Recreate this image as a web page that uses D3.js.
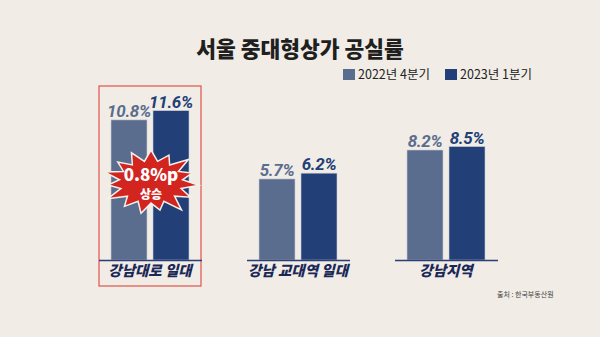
<!DOCTYPE html>
<html>
<head>
<meta charset="utf-8">
<script src="https://cdn.jsdelivr.net/npm/d3@7"></script>
<style>
  html, body { margin: 0; padding: 0; background: #f1ede6; }
  svg { display: block; }
  text { font-family: "Noto Sans CJK KR", "Noto Sans", sans-serif; }
</style>
</head>
<body>
<svg id="chart" width="600" height="337"></svg>
<script>
// Seoul mid/large retail vacancy rate (%)
const categories = ["강남대로 일대", "강남 교대역 일대", "강남지역"];
const seriesNames = ["2022년 4분기", "2023년 1분기"];
const q4_2022 = [10.8, 5.7, 8.2];
const q1_2023 = [11.6, 6.2, 8.5];
const highlight = { category: "강남대로 일대", lines: ["0.8%p", "상승"] };
const sourceText = "출처 : 한국부동산원";

const colors = ["#5b6d8e", "#223f78"];
const svg = d3.select("#chart");

svg.append("rect").attr("width", 600).attr("height", 337).attr("fill", "#f1ede6");

// title
svg.append("text")
  .attr("x", 300).attr("y", 57)
  .attr("text-anchor", "middle")
  .attr("font-size", 21.5).attr("font-weight", 900)
  .attr("fill", "#1f1f1f")
  .text("서울 중대형상가 공실률");

// legend
const legendX = [343, 445];
seriesNames.forEach((name, i) => {
  const g = svg.append("g").attr("transform", `translate(${legendX[i]},69)`);
  g.append("rect").attr("width", 12).attr("height", 11).attr("fill", colors[i]);
  g.append("text").attr("x", 15).attr("y", 10)
    .attr("font-size", 12.5).attr("fill", "#222")
    .text(name);
});

const baseline = 260;
const x = d3.scalePoint().domain(categories).range([150, 446]);
const y = d3.scaleLinear().domain([-1.3, 12]).range([baseline, 106]);
const barW = 36, gap = 6;

const data = categories.map((c, i) => ({ category: c, values: [q4_2022[i], q1_2023[i]] }));

// highlight frame round the first category
const hx = x(highlight.category);
svg.append("rect")
  .attr("x", hx - 51).attr("y", 86)
  .attr("width", 102).attr("height", 200)
  .attr("fill", "none").attr("stroke", "#e0534e").attr("stroke-width", 1.2);

const groups = svg.selectAll(".grp").data(data).join("g")
  .attr("class", "grp")
  .attr("transform", d => `translate(${x(d.category)},0)`);

groups.selectAll("rect.bar").data(d => d.values).join("rect")
  .attr("class", "bar")
  .attr("x", (v, i) => i === 0 ? -gap / 2 - barW : gap / 2)
  .attr("y", v => y(v))
  .attr("width", barW)
  .attr("height", v => baseline - y(v))
  .attr("fill", (v, i) => colors[i])
  .attr("stroke", "#c9cdd6").attr("stroke-width", 0.6);

groups.selectAll("text.val").data(d => d.values).join("text")
  .attr("class", "val")
  .attr("x", (v, i) => i === 0 ? -gap / 2 - barW / 2 : gap / 2 + barW / 2)
  .attr("y", v => y(v) - 3)
  .attr("text-anchor", "middle")
  .style("font-family", "Roboto, 'Noto Sans', sans-serif")
  .attr("font-size", 17).attr("font-weight", 700)
  .attr("font-style", "italic")
  .attr("letter-spacing", -0.3)
  .attr("fill", (v, i) => colors[i])
  .text(v => v.toFixed(1) + "%");

// per-group baseline
groups.append("line")
  .attr("x1", -51).attr("x2", 52)
  .attr("y1", baseline + 0.5).attr("y2", baseline + 0.5)
  .attr("stroke", "#2b3f75").attr("stroke-width", 1.5);

groups.append("text")
  .attr("x", 0).attr("y", 276)
  .attr("text-anchor", "middle")
  .attr("font-size", 14.5).attr("font-weight", 900)
  .attr("font-style", "italic")
  .attr("fill", "#1a2857")
  .text(d => d.category);

// starburst badge
const cx = hx + 1, cy = 182;
const spikes = 15;
const outer = [1, 0.92, 1.05, 0.9, 1, 0.95, 1.08, 0.9, 1, 0.94, 1.04, 0.9, 1.02, 0.93, 1];
const pts = [];
for (let k = 0; k < spikes * 2; k++) {
  const a = (k / (spikes * 2)) * Math.PI * 2 - Math.PI / 2;
  const r = k % 2 === 0 ? outer[k / 2] : 0.66;
  pts.push([cx + Math.cos(a) * 48 * r, cy + Math.sin(a) * 32 * r]);
}
svg.append("path")
  .attr("d", d3.line()(pts) + "Z")
  .attr("fill", "#d3251f")
  .attr("stroke", "#f4f0ea").attr("stroke-width", 1.5)
  .attr("stroke-linejoin", "miter");

svg.append("text")
  .attr("x", cx).attr("y", 181)
  .attr("text-anchor", "middle")
  .attr("font-size", 17).attr("font-weight", 800)
  .attr("fill", "#fff")
  .text(highlight.lines[0]);
svg.append("text")
  .attr("x", cx).attr("y", 199)
  .attr("text-anchor", "middle")
  .attr("font-size", 12).attr("font-weight", 800)
  .attr("fill", "#fff")
  .text(highlight.lines[1]);

// source note
svg.append("text")
  .attr("x", 497).attr("y", 297)
  .attr("font-size", 7).attr("fill", "#444")
  .text(sourceText);
</script>
</body>
</html>
